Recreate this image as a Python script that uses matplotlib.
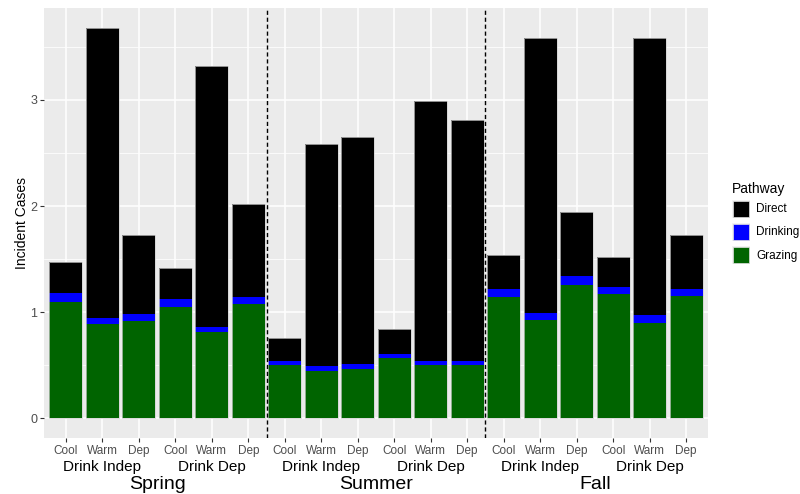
import matplotlib
matplotlib.use("Agg")
import matplotlib.pyplot as plt
from matplotlib.patches import Rectangle
import numpy as np

plt.rcParams['font.family'] = ['Liberation Sans', 'DejaVu Sans']

# ---- data ----
seasons = ["Spring", "Summer", "Fall"]
groups = ["Drink Indep", "Drink Dep"]
temps = ["Cool", "Warm", "Dep"]
pathways = ["Direct", "Drinking", "Grazing"]
pathway_colors = ["#000000", "#0000FF", "#006400"]

grazing = [1.10, 0.89, 0.92, 1.05, 0.81, 1.08,
           0.50, 0.45, 0.47, 0.57, 0.50, 0.50,
           1.14, 0.93, 1.26, 1.17, 0.90, 1.15]
drinking = [0.08, 0.06, 0.06, 0.07, 0.05, 0.06,
            0.04, 0.04, 0.04, 0.04, 0.04, 0.04,
            0.08, 0.06, 0.08, 0.07, 0.07, 0.07]
direct = [0.29, 2.73, 0.75, 0.30, 2.46, 0.88,
          0.22, 2.09, 2.14, 0.23, 2.45, 2.27,
          0.32, 2.59, 0.60, 0.28, 2.61, 0.51]

yticks = [0, 1, 2, 3]

# ---- figure ----
fig = plt.figure(figsize=(8, 4.94), dpi=100)
ax = fig.add_axes([44/800, 1-438/494, 664/800, 430/494])
ax.set_facecolor('#EBEBEB')

n = len(grazing)
x = np.arange(1, n + 1)
tick_labels = [t for s in seasons for g in groups for t in temps]

g = np.array(grazing)
d = np.array(drinking)
dr = np.array(direct)
w = 0.9
ax.bar(x, g, width=w, color=pathway_colors[2], edgecolor='none', linewidth=0, zorder=3)
ax.bar(x, d, width=w, bottom=g, color=pathway_colors[1], edgecolor='none', linewidth=0, zorder=3)
ax.bar(x, dr, width=w, bottom=g + d, color=pathway_colors[0], edgecolor='none', linewidth=0, zorder=3)
# light outline around each stacked bar
ax.bar(x, g + d + dr, width=w, fill=False, edgecolor='#CFCFCF', linewidth=0.5, zorder=3.5)

# separators between seasons
for k in range(1, len(seasons)):
    ax.axvline(k * len(groups) * len(temps) + 0.5, color='black', linestyle=(0, (3, 2)), linewidth=1.0, zorder=4)

ax.set_xlim(0.4, n + 0.6)
ax.set_ylim(-0.184, 3.864)

ax.set_xticks(x)
ax.set_xticklabels(tick_labels, fontsize=8.5, color='#4D4D4D')
ax.set_yticks(yticks)
ax.set_yticklabels([str(v) for v in yticks], fontsize=9, color='#4D4D4D')
ax.set_yticks([0.5, 1.5, 2.5, 3.5], minor=True)
ax.tick_params(axis='x', length=3, width=0.8, color='#333333', pad=2)
ax.tick_params(axis='y', which='major', length=3, width=0.8, color='#333333', pad=2)
ax.tick_params(axis='y', which='minor', length=0)

ax.grid(which='major', color='white', linewidth=1.1, zorder=0)
ax.grid(which='minor', axis='y', color='white', linewidth=0.55, zorder=0)
ax.set_axisbelow(True)
for sp in ax.spines.values():
    sp.set_visible(False)

ax.set_ylabel("Incident Cases", fontsize=10, color='black', labelpad=1)

# group and season labels under the axis
trans = ax.get_xaxis_transform()
per_season = len(groups) * len(temps)
for si, s in enumerate(seasons):
    for gi, gname in enumerate(groups):
        cx = si * per_season + gi * len(temps) + (len(temps) + 1) / 2
        ax.text(cx, (438 - 467) / 430, gname, transform=trans, ha='center', va='center',
                fontsize=11, color='black')
    cs = si * per_season + (per_season + 1) / 2
    ax.text(cs, (438 - 484) / 430, s, transform=trans, ha='center', va='center',
            fontsize=14, color='black')

# legend (drawn manually, ggplot style)
fig.text(732/800, 1 - 189/494, "Pathway", fontsize=10, ha='left', va='center')
key_tops = [200, 223, 246]
for name, col, top in zip(pathways, pathway_colors, key_tops):
    fig.patches.append(Rectangle((732/800, 1 - (top + 18)/494), 18/800, 18/494,
                                 transform=fig.transFigure, facecolor='#F2F2F2',
                                 edgecolor='none'))
    fig.patches.append(Rectangle((733/800, 1 - (top + 17)/494), 16/800, 16/494,
                                 transform=fig.transFigure, facecolor=col,
                                 edgecolor='#E0E0E0', linewidth=0.5))
    fig.text(756/800, 1 - (top + 9.5)/494, name, fontsize=8.5, ha='left', va='center')

fig.savefig("out.png", dpi=100)
